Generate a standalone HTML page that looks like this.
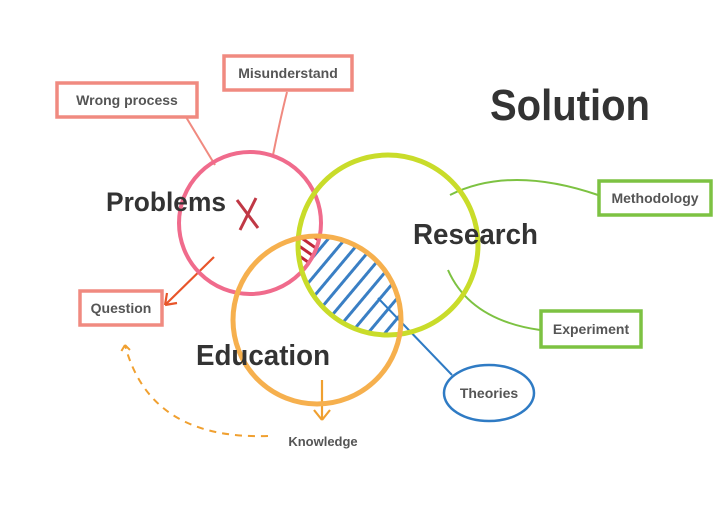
<!DOCTYPE html>
<html><head><style>
body{margin:0;background:#fff;}
svg text{font-family:"Liberation Sans",sans-serif;}
</style></head><body>
<svg width="720" height="502" viewBox="0 0 720 502" xmlns="http://www.w3.org/2000/svg">
<defs>
<clipPath id="cr"><circle cx="388" cy="245" r="90"/></clipPath>
<clipPath id="ce"><circle cx="317" cy="320" r="84"/></clipPath>
<clipPath id="cp"><circle cx="250" cy="223" r="71"/></clipPath>
<pattern id="hb" width="13" height="13" patternUnits="userSpaceOnUse" patternTransform="rotate(40)"><line x1="2" y1="0" x2="2" y2="13" stroke="#3a7fc4" stroke-width="3"/></pattern>
<pattern id="hr" width="8" height="8" patternUnits="userSpaceOnUse" patternTransform="rotate(-55)"><line x1="2" y1="0" x2="2" y2="8" stroke="#c0283a" stroke-width="3"/></pattern>
</defs>
<g clip-path="url(#cr)"><g clip-path="url(#ce)"><rect x="280" y="220" width="140" height="120" fill="url(#hb)"/></g></g>
<g clip-path="url(#cr)"><g clip-path="url(#ce)"><g clip-path="url(#cp)"><rect x="280" y="210" width="60" height="80" fill="#fff"/><rect x="280" y="210" width="60" height="80" fill="url(#hr)"/></g></g></g>
<path d="M186 117 L215 165" stroke="#f08a80" stroke-width="2" fill="none"/>
<path d="M287 92 Q280 120 273 155" stroke="#f08a80" stroke-width="2" fill="none"/>
<path d="M214 257 L165 305 M165 305 l2 -12 M165 305 l12 -2" stroke="#e8552a" stroke-width="2.2" fill="none"/>
<path d="M450 195 Q510 165 598 195" stroke="#7dc242" stroke-width="2" fill="none"/>
<path d="M448 270 Q470 320 540 330" stroke="#7dc242" stroke-width="2" fill="none"/>
<path d="M378 298 L452 375" stroke="#2f7bc4" stroke-width="2" fill="none"/>
<path d="M322 380 L322 420 M322 420 l-8 -10 M322 420 l8 -10" stroke="#f0a030" stroke-width="2.2" fill="none"/>
<path d="M268 436 Q150 440 125 345 M125 345 l-6 10 M125 345 l8 8" stroke="#f0a030" stroke-width="2" stroke-dasharray="7 6" fill="none"/>
<circle cx="250" cy="223" r="71" fill="none" stroke="#f06b8c" stroke-width="4"/>
<circle cx="388" cy="245" r="90" fill="none" stroke="#c9dc2a" stroke-width="5"/>
<circle cx="317" cy="320" r="84" fill="none" stroke="#f6b04e" stroke-width="5"/>
<path d="M237 200 L258 228 M256 198 L240 230" stroke="#c03845" stroke-width="3" fill="none"/>
<g fill="#fff" stroke="#f08a80" stroke-width="3.5">
<rect x="57" y="83" width="140" height="34"/>
<rect x="224" y="56" width="128" height="34"/>
<rect x="80" y="291" width="82" height="34"/>
</g>
<g fill="#fff" stroke="#7dc242" stroke-width="3.5">
<rect x="599" y="181" width="112" height="34"/>
<rect x="541" y="311" width="100" height="36"/>
</g>
<ellipse cx="489" cy="393" rx="45" ry="28" fill="#fff" stroke="#2f7bc4" stroke-width="2.5"/>
<g fill="#555" font-size="14" font-weight="bold" text-anchor="middle">
<text x="127" y="105">Wrong process</text>
<text x="288" y="78">Misunderstand</text>
<text x="121" y="313">Question</text>
<text x="655" y="203">Methodology</text>
<text x="591" y="334">Experiment</text>
<text x="489" y="398">Theories</text>
<text x="323" y="446" font-size="13">Knowledge</text>
</g>
<g fill="#333" font-weight="bold">
<text x="106" y="211" font-size="27" textLength="120" lengthAdjust="spacingAndGlyphs">Problems</text>
<text x="413" y="244" font-size="29" textLength="125" lengthAdjust="spacingAndGlyphs">Research</text>
<text x="196" y="365" font-size="29" textLength="134" lengthAdjust="spacingAndGlyphs">Education</text>
<text x="490" y="120" font-size="44" textLength="160" lengthAdjust="spacingAndGlyphs">Solution</text>
</g>
</svg>
</body></html>
